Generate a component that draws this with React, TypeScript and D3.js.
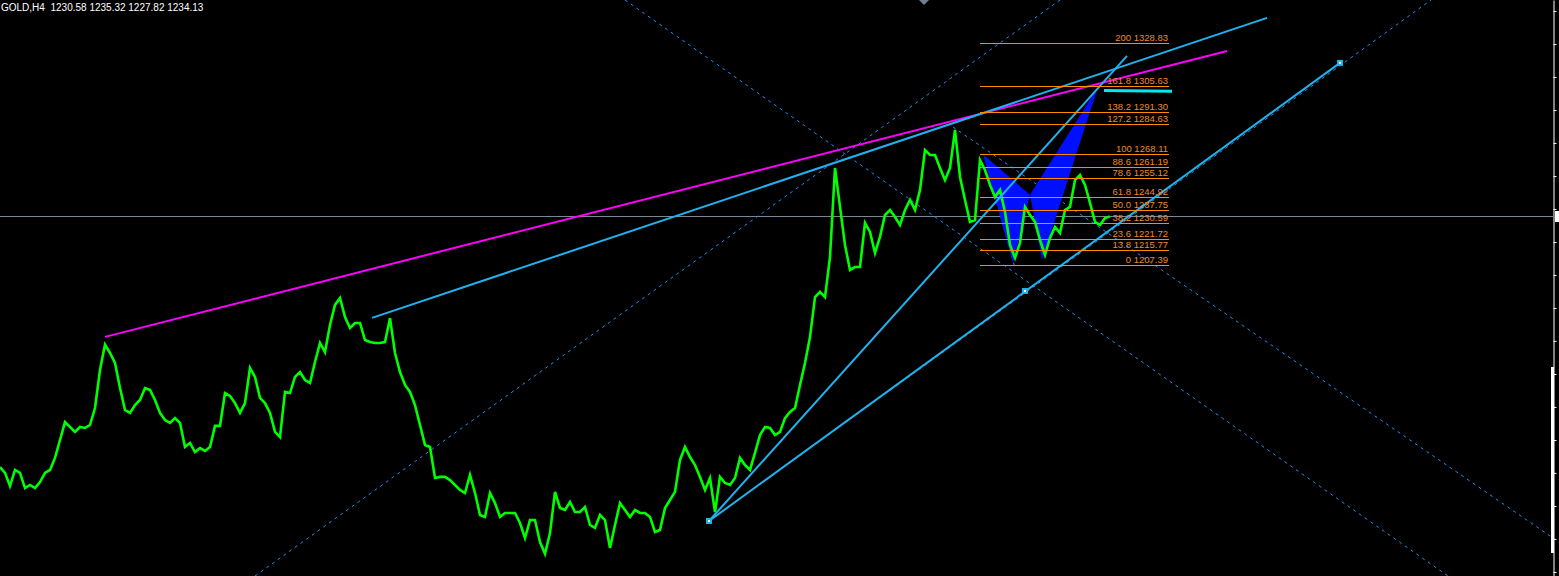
import React, { useEffect, useRef } from "react";
import * as d3 from "d3";

const WIDTH = 1559;
const HEIGHT = 576;

// GOLD H4 closes, one value per sampled bar
const closes = [
  1097.0, 1093.8, 1086.6, 1095.4, 1093.8, 1085.5, 1087.2, 1085.5, 1088.8, 1093.8,
  1095.4, 1102.0, 1111.8, 1121.6, 1118.9, 1116.2, 1118.9, 1118.4, 1120.0, 1129.3,
  1150.1, 1164.0, 1159.4, 1153.9, 1140.2, 1128.2, 1126.6, 1130.9, 1133.7, 1140.2,
  1139.2, 1133.7, 1126.6, 1122.7, 1121.1, 1123.8, 1121.1, 1108.0, 1110.2, 1105.2,
  1107.4, 1105.8, 1108.0, 1119.5, 1119.5, 1137.5, 1135.9, 1132.0, 1126.6, 1132.0,
  1151.2, 1146.3, 1134.8, 1132.0, 1126.6, 1116.2, 1113.4, 1138.1, 1137.5, 1146.3,
  1149.0, 1144.6, 1143.0, 1154.5, 1164.9, 1159.9, 1174.7, 1185.7, 1189.5, 1179.1,
  1173.1, 1175.8, 1175.8, 1166.5, 1165.4, 1164.9, 1164.9, 1165.4, 1178.5, 1159.4,
  1149.0, 1141.9, 1138.1, 1130.9, 1120.0, 1109.1, 1108.0, 1091.0, 1091.6, 1091.6,
  1089.9, 1087.2, 1084.5, 1082.8, 1092.7, 1082.8, 1070.8, 1069.7, 1082.8, 1077.3,
  1069.7, 1071.9, 1071.9, 1071.9, 1066.4, 1058.2, 1068.0, 1068.0, 1056.0, 1049.5,
  1060.9, 1083.4, 1074.6, 1073.5, 1077.9, 1072.4, 1072.4, 1075.2, 1065.3, 1063.7,
  1070.8, 1068.0, 1052.7, 1065.3, 1077.3, 1073.5, 1069.7, 1073.5, 1071.9, 1071.9,
  1069.7, 1061.5, 1062.6, 1074.6, 1079.0, 1083.4, 1100.9, 1108.0, 1102.5, 1098.1,
  1091.6, 1084.5, 1091.0, 1072.4, 1091.6, 1088.3, 1087.2, 1091.0, 1102.0, 1098.1,
  1095.4, 1104.7, 1114.5, 1118.9, 1118.4, 1114.5, 1116.2, 1123.8, 1127.1, 1129.3,
  1141.9, 1153.9, 1168.1, 1190.0, 1192.8, 1190.0, 1211.9, 1260.6, 1239.3, 1218.5,
  1204.8, 1206.4, 1206.4, 1230.5, 1225.6, 1214.1, 1222.9, 1234.9, 1237.6, 1233.8,
  1229.4, 1237.6, 1243.1, 1237.6, 1248.6, 1270.4, 1267.7, 1267.7, 1260.6, 1254.0,
  1260.6, 1281.4, 1255.7, 1243.1, 1231.1, 1232.1, 1265.0, 1259.5, 1251.3, 1244.7,
  1248.6, 1236.5, 1218.5, 1211.4, 1219.6, 1239.3, 1234.9, 1231.1, 1221.2, 1213.0,
  1222.3, 1228.3, 1225.0, 1237.6, 1239.3, 1254.0, 1256.8, 1251.3, 1241.5, 1231.1,
  1229.4, 1233.2, 1234.13,
];

const header = "GOLD,H4  1230.58 1235.32 1227.82 1234.13";
const lastPrice = 1234.13;

// fibonacci retracement
const fibLevels = ["0", "13.8", "23.6", "38.2", "50.0", "61.8", "78.6", "88.6", "100", "127.2", "138.2", "161.8", "200"];
const fibPrices = [1207.39, 1215.77, 1221.72, 1230.59, 1237.75, 1244.92, 1255.12, 1261.19, 1268.11, 1284.63, 1291.3, 1305.63, 1328.83];
const fibBars = [196, 233.8];

// trend lines [bar, price]
const magentaLine = [[21, 1168.2], [245.4, 1324.6]];
const upperBlue = [[74.4, 1178.6], [253.4, 1342.7]];
const steepBlue = [[141.8, 1067.5], [225.4, 1321.9]];
const channelBlue = [[141.8, 1067.5], [205, 1193.3], [268, 1318.1]];
const targetLine = [[220.8, 1303.0], [234.4, 1302.6]];

// dotted rays
const dotLines = [
  [[125, 1352.5], [289.6, 1037.4]],
  [[190.6, 1283.0], [310.6, 1058.2]],
  [[51, 1037.4], [212, 1352.5]],
  [[141.8, 1067.5], [286.2, 1352.5]],
  [[197.8, 1256.8], [203, 1205.9]],
];

// harmonic pattern X A B / B C D
const patternXAB = [[196.6, 1268.1], [202.6, 1208.6], [206, 1245.9]];
const patternBCD = [[206, 1245.9], [208.4, 1210.3], [219.6, 1304.9]];

const priceTicks = [1346.5, 1328.4, 1310.4, 1292.3, 1274.3, 1256.2, 1238.2, 1220.1, 1202.1, 1184.0, 1166.0, 1147.9, 1129.9, 1111.8, 1093.8, 1075.7, 1057.7, 1039.6];

const App = () => {
  const ref = useRef<SVGSVGElement>(null);

  useEffect(() => {
    document.body.style.margin = "0";
    document.body.style.background = "#000";
    const svg = d3.select(ref.current);
    svg.selectAll("*").remove();

    const x = d3.scaleLinear().domain([0, closes.length - 1]).range([0, 1110]);
    const y = d3.scaleLinear().domain([1037.4, 1352.5]).range([HEIGHT, 0]);
    const pt = (d: number[]) => [x(d[0]), y(d[1])] as [number, number];

    svg.append("rect").attr("width", WIDTH).attr("height", HEIGHT).attr("fill", "#000");

    // fib lines
    const fib = svg.append("g");
    fibPrices.forEach((p) => {
      fib
        .append("line")
        .attr("x1", x(fibBars[0]))
        .attr("x2", x(fibBars[1]))
        .attr("y1", Math.round(y(p)) + 0.5)
        .attr("y2", Math.round(y(p)) + 0.5)
        .attr("stroke", "#ff8c00")
        .attr("stroke-width", 1);
    });

    // current price line
    svg
      .append("line")
      .attr("x1", 0)
      .attr("x2", 1553)
      .attr("y1", Math.round(y(lastPrice)) + 0.5)
      .attr("y2", Math.round(y(lastPrice)) + 0.5)
      .attr("stroke", "#7a8794")
      .attr("stroke-width", 1);

    // dotted rays
    dotLines.forEach((l) => {
      svg
        .append("line")
        .attr("x1", pt(l[0])[0])
        .attr("y1", pt(l[0])[1])
        .attr("x2", pt(l[1])[0])
        .attr("y2", pt(l[1])[1])
        .attr("stroke", "#1e90ff")
        .attr("stroke-width", 1)
        .attr("stroke-dasharray", "3,4");
    });

    // harmonic triangles
    [patternXAB, patternBCD].forEach((tri) => {
      svg
        .append("path")
        .attr("d", "M" + tri.map((d) => pt(d).join(",")).join("L") + "Z")
        .attr("fill", "#0010ff");
    });

    // price
    const line = d3
      .line<number>()
      .x((_, i) => x(i))
      .y((d) => y(d));
    svg
      .append("path")
      .datum(closes)
      .attr("fill", "none")
      .attr("stroke", "#00ff00")
      .attr("stroke-width", 2.6)
      .attr("stroke-linejoin", "miter")
      .attr("d", line);

    // trend lines
    const trend = (l: number[][], color: string, w: number) =>
      svg
        .append("line")
        .attr("x1", pt(l[0])[0])
        .attr("y1", pt(l[0])[1])
        .attr("x2", pt(l[l.length - 1])[0])
        .attr("y2", pt(l[l.length - 1])[1])
        .attr("stroke", color)
        .attr("stroke-width", w);
    trend(magentaLine, "#ff00ff", 2);
    trend(upperBlue, "#1fb2ee", 2);
    trend(steepBlue, "#1fb2ee", 2);
    trend(channelBlue, "#1fb2ee", 2);
    trend(targetLine, "#00e8f0", 3);

    channelBlue.forEach((d) => {
      const [cx, cy] = pt(d);
      svg.append("rect").attr("x", cx - 3).attr("y", cy - 3).attr("width", 6).attr("height", 6).attr("fill", "#1fb2ee");
      svg.append("rect").attr("x", cx - 1).attr("y", cy - 1).attr("width", 2).attr("height", 2).attr("fill", "#fff");
    });

    // fib labels on top
    fibPrices.forEach((p, i) => {
      fib
        .append("text")
        .attr("x", x(fibBars[1]) - 1)
        .attr("y", Math.round(y(p)) - 2)
        .attr("text-anchor", "end")
        .attr("fill", "#f08a24")
        .attr("font-family", "Liberation Sans, Arial, sans-serif")
        .attr("font-size", 9.5)
        .text(`${fibLevels[i]} ${p.toFixed(2)}`);
    });
    fib.raise();

    // header
    svg
      .append("text")
      .attr("x", 1)
      .attr("y", 11)
      .attr("fill", "#fff")
      .attr("font-family", "Liberation Sans, Arial, sans-serif")
      .attr("font-size", 10)
      .attr("xml:space", "preserve")
      .style("white-space", "pre")
      .text(header);

    // shift marker at top
    svg.append("path").attr("d", "M919,0L929,0L924,5Z").attr("fill", "#708090");

    // price axis
    svg
      .append("g")
      .attr("transform", "translate(1553.5,0)")
      .call(d3.axisRight(y).tickValues(priceTicks).tickSize(3).tickSizeOuter(0).tickFormat(() => ""))
      .call((g) => g.selectAll("line,path").attr("stroke", "#fff"));

    svg.append("rect").attr("x", 1551).attr("y", 367).attr("width", 3).attr("height", 186).attr("fill", "#fff");
    svg.append("rect").attr("x", 1555).attr("y", Math.round(y(lastPrice)) - 5).attr("width", 4).attr("height", 11).attr("fill", "#fff");
  }, []);

  return <svg ref={ref} width={WIDTH} height={HEIGHT} style={{ position: "absolute", left: 0, top: 0 }} />;
};

export default App;
